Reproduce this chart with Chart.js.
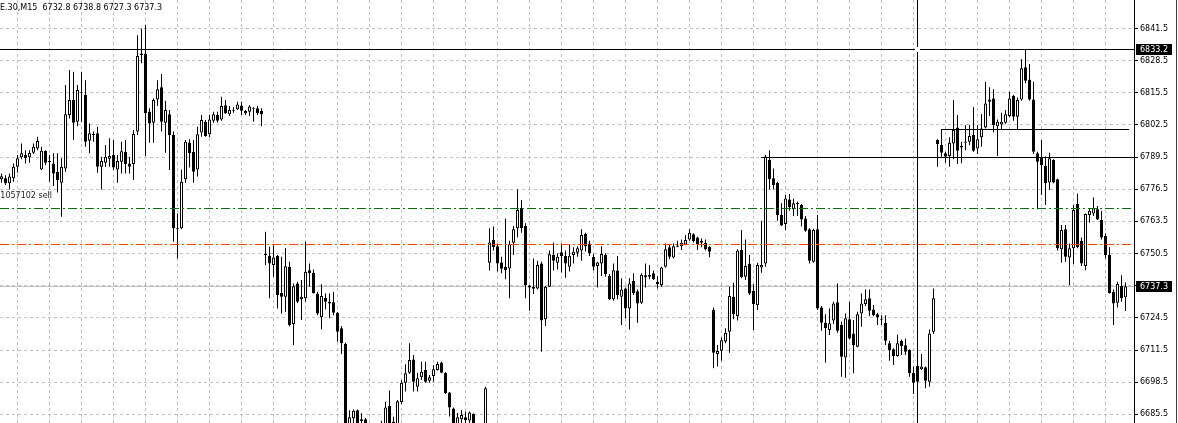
<!DOCTYPE html>
<html>
<head>
<meta charset="utf-8">
<script src="https://cdn.jsdelivr.net/npm/chart.js@4/dist/chart.umd.min.js"></script>
<style>
  html, body { margin: 0; padding: 0; background: #fff; overflow: hidden; }
  canvas { display: block; }
</style>
</head>
<body>
<canvas id="chart" width="1178" height="423"></canvas>
<script>
// M15 candles (oldest first)
const opens = [
  6780.5, 6780.9, 6778.9, 6780.9, 6785.6, 6789.4, 6790.3, 6789.4, 6791.3, 6793.0,
  6784.5, 6792.1, 6787.9, 6786.9, 6783.6, 6779.1, 6784.9, 6806.5, 6812.6, 6803.8,
  6815.5, 6814.6, 6796.1, 6798.4, 6799.1, 6785.6, 6787.2, 6788.8, 6790.3, 6784.5,
  6787.6, 6791.7, 6786.9, 6786.7, 6799.8, 6831.4, 6831.4, 6807.8, 6803.4, 6812.8,
  6817.7, 6803.4, 6806.8, 6798.4, 6760.3, 6760.7, 6780.5, 6795.4, 6791.7, 6784.5,
  6799.4, 6803.8, 6798.7, 6804.2, 6806.5, 6804.7, 6810.5, 6806.8, 6808.2, 6808.8,
  6810.4, 6808.1, 6807.8, 6809.2, 6809.2, 6808.1, 6749.9, 6749.5, 6745.9, 6749.5,
  6734.6, 6733.0, 6745.2, 6722.0, 6738.4, 6732.1, 6732.4, 6743.8, 6742.7, 6734.4,
  6724.7, 6732.6, 6731.0, 6730.8, 6726.6, 6720.3, 6714.0, 6680.5, 6683.9, 6687.2,
  6683.5, 6683.5, 6680.0, 6678.0, 6677.0, 6680.0, 6681.0, 6688.9, 6682.5, 6681.5,
  6690.5, 6698.3, 6702.3, 6707.7, 6696.7, 6700.5, 6703.4, 6699.1, 6701.0, 6703.4,
  6706.5, 6702.3, 6694.3, 6687.9, 6681.5, 6683.5, 6684.3, 6683.0, 6685.6, 6681.0,
  6679.0, 6681.0, 6746.8, 6756.0, 6753.5, 6746.9, 6745.2, 6744.5, 6754.9, 6760.7,
  6769.0, 6761.6, 6737.5, 6737.1, 6736.4, 6746.5, 6723.9, 6737.1, 6749.9, 6746.8,
  6751.0, 6749.5, 6745.2, 6749.9, 6750.8, 6751.7, 6758.4, 6754.6, 6749.2, 6745.5,
  6746.5, 6749.9, 6741.4, 6732.0, 6743.6, 6733.0, 6736.4, 6728.3, 6739.4, 6735.3,
  6730.6, 6741.7, 6741.8, 6742.5, 6739.1, 6737.8, 6745.2, 6753.0, 6748.9, 6753.3,
  6753.5, 6754.2, 6756.2, 6758.3, 6757.0, 6755.7, 6754.9, 6753.3, 6727.7, 6709.9,
  6711.2, 6714.9, 6718.9, 6733.0, 6725.2, 6751.9, 6741.1, 6746.5, 6735.5, 6729.6,
  6744.9, 6746.5, 6788.3, 6780.9, 6779.1, 6766.1, 6762.4, 6772.4, 6768.4, 6770.5,
  6770.1, 6764.7, 6760.3, 6747.2, 6760.3, 6728.7, 6722.5, 6719.6, 6723.4, 6730.8,
  6721.6, 6708.5, 6723.9, 6718.2, 6712.8, 6726.3, 6730.1, 6732.4, 6727.9, 6726.0,
  6723.9, 6722.5, 6714.2, 6711.8, 6709.1, 6715.3, 6713.4, 6711.5, 6702.3, 6705.0,
  6703.7, 6704.5, 6698.7, 6718.9, 6796.4, 6794.4, 6791.0, 6789.9, 6795.0, 6801.5,
  6794.0, 6795.3, 6795.7, 6798.4, 6793.0, 6797.5, 6801.5, 6811.9, 6813.2, 6802.0,
  6802.7, 6803.4, 6806.1, 6814.2, 6805.8, 6812.8, 6825.8, 6820.9, 6812.8, 6791.0,
  6789.4, 6785.9, 6779.2, 6788.3, 6780.5, 6752.2, 6760.3, 6748.9, 6752.6, 6770.5,
  6755.7, 6745.5, 6766.1, 6766.7, 6768.4, 6764.1, 6757.6, 6749.9, 6735.1, 6730.6,
  6737.4, 6732.8
];
const highs = [
  6782.9, 6782.2, 6782.9, 6786.9, 6790.3, 6795.0, 6792.3, 6792.3, 6795.0, 6797.7,
  6793.7, 6792.3, 6790.3, 6791.0, 6791.0, 6789.0, 6818.6, 6824.7, 6824.0, 6818.6,
  6824.0, 6820.6, 6803.1, 6799.8, 6801.8, 6789.6, 6794.4, 6797.1, 6796.4, 6790.3,
  6795.7, 6796.4, 6789.6, 6800.4, 6838.8, 6841.5, 6842.9, 6809.2, 6813.2, 6820.6,
  6823.1, 6812.3, 6808.5, 6799.8, 6766.7, 6784.5, 6796.4, 6796.7, 6796.4, 6801.8,
  6806.5, 6804.5, 6806.5, 6807.8, 6807.8, 6813.9, 6812.6, 6810.1, 6809.6, 6811.9,
  6811.9, 6808.5, 6810.5, 6809.6, 6810.1, 6809.2, 6759.3, 6753.3, 6753.9, 6749.9,
  6749.2, 6752.6, 6747.2, 6738.4, 6739.1, 6739.8, 6755.3, 6746.5, 6744.1, 6735.1,
  6738.1, 6734.4, 6734.4, 6735.1, 6726.9, 6721.2, 6714.5, 6687.2, 6687.5, 6687.5,
  6685.9, 6684.0, 6681.5, 6680.5, 6681.0, 6682.9, 6690.6, 6695.1, 6684.5, 6691.3,
  6699.4, 6705.7, 6714.2, 6709.5, 6702.3, 6706.8, 6706.8, 6701.4, 6705.4, 6706.8,
  6706.8, 6702.5, 6694.5, 6688.3, 6686.0, 6687.2, 6686.6, 6686.6, 6685.9, 6681.8,
  6681.5, 6696.7, 6760.7, 6761.4, 6754.6, 6749.2, 6764.7, 6755.7, 6761.6, 6776.4,
  6772.1, 6762.7, 6737.8, 6748.5, 6747.6, 6747.2, 6737.4, 6751.7, 6755.0, 6750.6,
  6754.6, 6751.7, 6754.3, 6753.0, 6753.5, 6760.3, 6758.9, 6755.7, 6750.3, 6747.2,
  6753.5, 6750.6, 6742.2, 6746.5, 6749.5, 6740.5, 6736.8, 6740.5, 6742.5, 6736.0,
  6742.5, 6746.5, 6745.9, 6743.6, 6741.4, 6745.2, 6754.6, 6754.3, 6754.6, 6755.7,
  6756.2, 6758.0, 6760.3, 6758.7, 6757.3, 6756.6, 6756.2, 6753.5, 6728.7, 6713.5,
  6716.6, 6720.3, 6737.1, 6738.7, 6752.2, 6760.0, 6756.2, 6749.9, 6738.2, 6746.8,
  6763.8, 6790.3, 6792.3, 6784.9, 6779.5, 6770.8, 6774.2, 6774.6, 6772.8, 6771.5,
  6770.5, 6765.7, 6760.7, 6760.5, 6766.1, 6729.3, 6726.0, 6728.3, 6731.0, 6738.4,
  6723.0, 6726.3, 6731.0, 6723.6, 6727.0, 6734.4, 6736.0, 6736.0, 6729.7, 6726.6,
  6725.6, 6725.6, 6715.3, 6712.2, 6717.8, 6715.8, 6716.2, 6711.8, 6704.8, 6705.2,
  6709.9, 6704.8, 6719.8, 6736.4, 6796.7, 6800.5, 6791.7, 6797.5, 6812.6, 6806.5,
  6795.7, 6802.5, 6802.5, 6809.6, 6802.5, 6806.9, 6820.0, 6817.7, 6816.9, 6804.7,
  6807.4, 6808.5, 6815.9, 6814.6, 6813.6, 6829.0, 6833.2, 6827.1, 6820.0, 6791.7,
  6796.4, 6789.7, 6791.3, 6788.6, 6780.7, 6762.0, 6762.0, 6754.6, 6770.1, 6774.8,
  6757.0, 6766.7, 6768.8, 6773.2, 6769.7, 6767.8, 6758.7, 6753.0, 6736.0, 6739.1,
  6741.7, 6738.8
];
const lows = [
  6779.1, 6778.2, 6776.4, 6779.5, 6783.2, 6788.6, 6786.9, 6787.2, 6790.7, 6792.3,
  6784.3, 6786.3, 6779.5, 6777.8, 6775.2, 6765.4, 6783.6, 6805.1, 6796.4, 6802.0,
  6803.8, 6793.7, 6791.0, 6795.7, 6783.2, 6776.4, 6785.6, 6785.6, 6784.3, 6779.1,
  6782.9, 6782.9, 6782.9, 6780.2, 6798.4, 6827.4, 6789.9, 6795.3, 6795.3, 6810.1,
  6799.8, 6791.3, 6784.3, 6755.3, 6748.5, 6760.3, 6779.1, 6785.3, 6779.1, 6781.6,
  6797.7, 6797.7, 6797.5, 6803.4, 6803.4, 6804.2, 6806.9, 6806.1, 6807.4, 6808.5,
  6806.5, 6806.5, 6806.1, 6803.8, 6806.5, 6802.0, 6745.9, 6732.4, 6741.1, 6728.3,
  6726.3, 6727.0, 6721.0, 6713.5, 6730.5, 6723.6, 6731.0, 6737.1, 6734.4, 6725.6,
  6719.8, 6727.9, 6724.3, 6725.6, 6714.8, 6709.9, 6678.5, 6679.0, 6681.5, 6679.0,
  6680.0, 6679.0, 6676.0, 6674.0, 6675.0, 6677.0, 6679.0, 6679.5, 6678.0, 6680.0,
  6689.7, 6694.7, 6701.8, 6694.7, 6694.7, 6699.4, 6698.3, 6698.3, 6698.7, 6703.2,
  6702.1, 6693.7, 6684.6, 6679.5, 6680.0, 6681.0, 6681.0, 6681.0, 6679.0, 6677.0,
  6676.0, 6680.0, 6743.6, 6751.7, 6743.2, 6742.5, 6740.1, 6732.4, 6749.9, 6757.0,
  6758.9, 6732.4, 6727.4, 6734.1, 6736.0, 6710.8, 6721.2, 6737.0, 6743.6, 6744.1,
  6742.8, 6740.7, 6743.2, 6746.5, 6749.2, 6747.6, 6751.3, 6749.5, 6743.6, 6736.8,
  6741.4, 6741.1, 6731.7, 6731.4, 6732.0, 6721.6, 6724.3, 6719.8, 6733.7, 6722.5,
  6730.1, 6736.8, 6740.1, 6739.8, 6736.4, 6737.1, 6744.9, 6748.2, 6748.6, 6753.0,
  6751.9, 6753.9, 6755.7, 6755.0, 6751.9, 6753.0, 6751.7, 6749.0, 6704.1, 6704.8,
  6707.2, 6714.2, 6710.4, 6723.9, 6723.4, 6740.5, 6739.8, 6733.7, 6719.6, 6727.7,
  6742.7, 6745.2, 6776.4, 6776.4, 6763.8, 6761.6, 6760.0, 6767.8, 6765.7, 6765.7,
  6761.4, 6759.3, 6746.5, 6746.8, 6727.7, 6719.3, 6706.4, 6717.6, 6722.0, 6718.5,
  6700.7, 6700.3, 6715.8, 6702.1, 6712.6, 6720.9, 6729.3, 6725.2, 6725.2, 6721.6,
  6721.6, 6713.5, 6707.2, 6705.4, 6708.8, 6709.5, 6709.5, 6700.7, 6693.7, 6698.3,
  6703.4, 6696.0, 6696.7, 6718.0, 6785.6, 6789.6, 6787.2, 6785.6, 6788.6, 6786.7,
  6787.0, 6792.3, 6794.4, 6791.7, 6790.7, 6793.7, 6801.1, 6806.1, 6799.4, 6789.9,
  6800.4, 6802.9, 6805.6, 6804.2, 6800.7, 6812.3, 6819.3, 6812.3, 6790.7, 6768.4,
  6774.2, 6770.1, 6776.2, 6778.9, 6751.7, 6746.8, 6747.2, 6737.8, 6746.3, 6752.6,
  6745.5, 6743.8, 6763.0, 6765.7, 6764.1, 6756.2, 6748.5, 6734.4, 6721.6, 6728.7,
  6731.0, 6727.3
];
const closes = [
  6781.8, 6778.9, 6781.6, 6785.6, 6789.0, 6791.0, 6789.0, 6791.3, 6793.7, 6796.0,
  6792.1, 6787.2, 6787.4, 6782.9, 6780.2, 6785.6, 6806.8, 6812.6, 6803.4, 6816.6,
  6815.3, 6795.7, 6799.1, 6798.6, 6785.6, 6787.9, 6789.6, 6789.9, 6785.3, 6787.9,
  6791.9, 6786.7, 6785.6, 6798.8, 6830.4, 6830.8, 6807.2, 6803.1, 6812.6, 6816.9,
  6803.8, 6808.5, 6798.4, 6760.7, 6760.5, 6779.5, 6795.7, 6791.0, 6783.6, 6798.7,
  6804.5, 6798.0, 6804.7, 6806.8, 6804.2, 6810.1, 6807.2, 6808.5, 6808.4, 6810.8,
  6808.2, 6807.2, 6809.9, 6809.0, 6807.2, 6806.8, 6750.1, 6746.5, 6748.9, 6733.7,
  6733.0, 6745.4, 6721.6, 6737.3, 6731.0, 6733.0, 6743.1, 6742.5, 6734.6, 6726.3,
  6733.3, 6731.0, 6730.3, 6726.6, 6718.9, 6714.2, 6681.0, 6684.3, 6687.0, 6681.0,
  6682.8, 6681.5, 6678.0, 6677.0, 6679.0, 6681.5, 6688.3, 6681.5, 6681.0, 6690.8,
  6698.3, 6702.1, 6707.5, 6698.7, 6700.1, 6702.7, 6698.7, 6700.5, 6703.7, 6705.9,
  6702.3, 6694.0, 6688.3, 6681.5, 6684.3, 6685.2, 6683.2, 6686.2, 6681.5, 6679.0,
  6680.0, 6696.0, 6755.0, 6753.0, 6746.5, 6744.4, 6743.8, 6754.3, 6760.3, 6768.1,
  6760.7, 6737.8, 6736.8, 6736.3, 6745.9, 6723.4, 6737.1, 6750.2, 6747.6, 6749.2,
  6749.5, 6746.5, 6749.6, 6751.2, 6752.6, 6758.0, 6753.5, 6750.6, 6745.2, 6746.9,
  6750.3, 6742.2, 6732.0, 6743.8, 6733.7, 6736.0, 6728.3, 6738.4, 6734.6, 6730.3,
  6741.8, 6740.9, 6741.1, 6740.1, 6738.2, 6744.9, 6752.2, 6749.2, 6753.5, 6753.8,
  6754.9, 6756.0, 6758.9, 6755.6, 6754.2, 6754.9, 6752.2, 6751.2, 6710.4, 6711.1,
  6715.5, 6718.5, 6733.3, 6726.0, 6751.7, 6740.9, 6745.5, 6734.4, 6730.1, 6745.9,
  6745.9, 6789.7, 6780.5, 6778.2, 6766.1, 6761.8, 6772.8, 6769.2, 6770.8, 6770.6,
  6764.3, 6759.7, 6747.6, 6760.0, 6728.3, 6722.5, 6720.3, 6722.3, 6730.3, 6719.3,
  6708.8, 6724.3, 6716.2, 6713.4, 6726.0, 6730.3, 6732.0, 6727.4, 6725.6, 6724.7,
  6723.7, 6715.3, 6711.5, 6709.1, 6714.2, 6713.1, 6710.8, 6702.1, 6698.3, 6698.7,
  6704.8, 6699.1, 6718.2, 6732.4, 6794.8, 6791.3, 6789.6, 6795.3, 6800.4, 6792.1,
  6793.4, 6795.5, 6798.0, 6792.1, 6796.7, 6801.1, 6811.2, 6812.8, 6802.5, 6803.8,
  6803.8, 6806.8, 6813.2, 6805.8, 6812.6, 6825.4, 6820.4, 6812.8, 6791.7, 6787.6,
  6786.3, 6778.9, 6789.0, 6779.2, 6752.6, 6760.0, 6749.2, 6752.6, 6768.1, 6753.0,
  6746.5, 6766.5, 6767.8, 6768.8, 6764.3, 6757.0, 6749.9, 6734.6, 6730.3, 6738.2,
  6732.4, 6737.3
];

// price scale labels on the right
const priceTicks = [6685.5, 6698.5, 6711.5, 6724.5, 6737.5, 6750.5, 6763.5,
                    6776.5, 6789.5, 6802.5, 6815.5, 6828.5, 6841.5];

// chart objects (prices, and bar index where a line starts/ends)
const symbolText = 'E.30,M15';
const orderText = '#11057102 sell';
const crossPrice = 6833.2;
const crossBar = 228.9;
const bidPrice = 6737.3;
const tpPrice = 6769.1;
const slPrice = 6754.4;
const trend1 = [6789.5, 189.9, 283.2];
const trend2 = [6800.7, 234.9, 281.9];

const n = opens.length;
const bull = i => closes[i] >= opens[i];
const last = n - 1;

function hline(ctx, x1, x2, y, color, dash) {
  const py = Math.round(y) + 0.5;
  ctx.save();
  ctx.strokeStyle = color;
  ctx.lineWidth = 1;
  ctx.setLineDash(dash || []);
  ctx.beginPath();
  ctx.moveTo(x1, py);
  ctx.lineTo(x2, py);
  ctx.stroke();
  ctx.restore();
}

function priceBox(ctx, x, y, txt) {
  const py = Math.round(y);
  ctx.fillStyle = '#000';
  ctx.fillRect(x + 2, py - 5, 36, 11);
  ctx.fillStyle = '#fff';
  ctx.font = '8px "DejaVu Sans"';
  ctx.textAlign = 'left';
  ctx.textBaseline = 'middle';
  ctx.fillText(txt, x + 6, py + 0.5);
}

const overlay = {
  id: 'overlay',
  beforeDatasetsDraw(chart) {
    const {ctx, chartArea: a, scales: {y}} = chart;
    hline(ctx, a.left, a.right, y.getPixelForValue(bidPrice), '#c0c0c0');
  },
  afterDatasetsDraw(chart) {
    const {ctx, chartArea: a, scales: {x, y}} = chart;
    // dash-dot order levels
    hline(ctx, a.left, a.right, y.getPixelForValue(tpPrice), '#0a6e0a', [9, 3, 2, 3]);
    hline(ctx, a.left, a.right, y.getPixelForValue(slPrice), '#ff4500', [9, 3, 2, 3]);
    // trend lines
    hline(ctx, x.getPixelForValue(trend1[1]), Math.min(a.right, x.getPixelForValue(trend1[2])),
          y.getPixelForValue(trend1[0]), '#000');
    hline(ctx, x.getPixelForValue(trend2[1]), x.getPixelForValue(trend2[2]),
          y.getPixelForValue(trend2[0]), '#000');
    // crosshair
    const cy = y.getPixelForValue(crossPrice);
    const cx = Math.round(x.getPixelForValue(crossBar)) + 0.5;
    hline(ctx, a.left, a.right, cy, '#000');
    ctx.save();
    ctx.strokeStyle = '#000';
    ctx.beginPath();
    ctx.moveTo(cx, a.top);
    ctx.lineTo(cx, a.bottom);
    ctx.stroke();
    ctx.fillStyle = '#fff';
    ctx.fillRect(cx - 2.5, Math.round(cy) - 2, 5, 5);
    ctx.restore();
    // texts
    ctx.save();
    ctx.fillStyle = '#000';
    ctx.font = '8px "DejaVu Sans"';
    ctx.textBaseline = 'alphabetic';
    ctx.textAlign = 'left';
    const ohlc = [opens[last], highs[last], lows[last], closes[last]].map(v => v.toFixed(1)).join(' ');
    ctx.fillText(symbolText + '  ' + ohlc, 0, 9.5);
    ctx.fillStyle = '#222';
    ctx.textAlign = 'right';
    ctx.fillText(orderText, 52, 198);
    ctx.restore();
  },
  afterDraw(chart) {
    const {ctx, chartArea: a, scales: {y}} = chart;
    priceBox(ctx, a.right, y.getPixelForValue(crossPrice), crossPrice.toFixed(1));
    priceBox(ctx, a.right, y.getPixelForValue(bidPrice), bidPrice.toFixed(1));
    ctx.save();
    ctx.strokeStyle = '#404040';
    ctx.beginPath();
    ctx.moveTo(1176.5, 0);
    ctx.lineTo(1176.5, 423);
    ctx.stroke();
    ctx.restore();
  }
};

Chart.defaults.font.family = '"DejaVu Sans"';

new Chart(document.getElementById('chart'), {
  type: 'bar',
  data: {
    datasets: [
      {
        label: 'body',
        data: opens.map((o, i) => ({x: i, y: [o, closes[i]]})),
        backgroundColor: c => bull(c.dataIndex) ? '#fff' : '#000',
        borderColor: '#000',
        borderWidth: 1,
        borderSkipped: false,
        barThickness: 3,
        minBarLength: 1,
        inflateAmount: 0,
        grouped: false
      },
      {
        label: 'wick',
        data: lows.map((l, i) => ({x: i, y: [l, highs[i]]})),
        backgroundColor: '#000',
        borderWidth: 0,
        barThickness: 1,
        inflateAmount: 0,
        grouped: false
      }
    ]
  },
  options: {
    responsive: false,
    animation: false,
    layout: { padding: 0 },
    plugins: {
      legend: { display: false },
      tooltip: { enabled: false },
      title: { display: false }
    },
    scales: {
      x: {
        type: 'linear',
        offset: false,
        min: -0.375,
        max: 283.125,
        afterBuildTicks: s => {
          const t = [];
          for (let v = 3.875; v < s.max; v += 8) t.push({value: v});
          s.ticks = t;
        },
        afterFit: s => {
          s.height = 0;
          s.paddingLeft = 0; s.paddingRight = 0; s.paddingTop = 0; s.paddingBottom = 0;
        },
        ticks: { display: false },
        grid: { color: '#c0c0c0', drawTicks: false, offset: false },
        border: { display: false, dash: [3, 3] }
      },
      y: {
        position: 'right',
        min: 6682,
        max: 6853,
        afterBuildTicks: s => { s.ticks = priceTicks.map(v => ({value: v})); },
        afterFit: s => {
          s.width = 44;
          s.paddingTop = 0; s.paddingBottom = 0; s.paddingLeft = 0; s.paddingRight = 0;
        },
        ticks: {
          color: '#000',
          padding: 2,
          font: { family: '"DejaVu Sans"', size: 8 },
          callback: v => v.toFixed(1)
        },
        grid: { color: '#c0c0c0', tickColor: '#000', tickLength: 4 },
        border: { display: true, color: '#000', width: 1, dash: [3, 3] }
      }
    }
  },
  plugins: [overlay]
});
</script>
</body>
</html>
